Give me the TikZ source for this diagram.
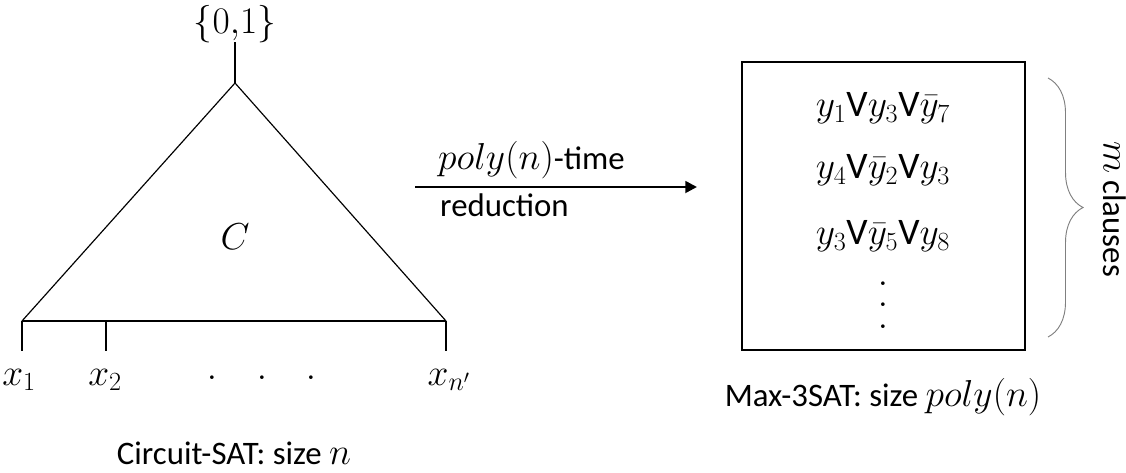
\RequirePackage{fix-cm}
\documentclass[tikz,border=0pt]{standalone}
\usepackage{fontspec}
\setmainfont{Carlito}
\usepackage{amsmath}
\usetikzlibrary{arrows.meta,positioning,decorations.pathreplacing}
\newcommand{\mth}[1]{{\fontsize{32}{36}\selectfont$#1$}}
\begin{document}
\begin{tikzpicture}[x=0.03cm,y=-0.03cm,
  font=\fontsize{28}{32}\selectfont,
  wire/.style={line width=1pt},
  pin/.style={line width=2.2pt},
  lab/.style={inner sep=0pt},
  cnfbox/.style={draw,line width=1.6pt,minimum width=8.49cm,minimum height=8.64cm,inner sep=0pt},
  mbrace/.style={decorate,decoration={brace,amplitude=1.05cm},draw=gray,line width=0.8pt}
]
\useasboundingbox (0,0) rectangle (1126,472);
% Circuit C as a triangle
\coordinate (apex) at (235,83);
\coordinate (bl) at (22,321);
\coordinate (br) at (446,321);
\coordinate (b2) at (106,321);
\coordinate (outp) at (235,42);
\node[lab] (out) at (235,24) {\mth{\{0{,}1\}}};
\draw[pin] (apex) -- (outp);
\draw[wire] (bl) -- (apex) -- (br);
\draw[wire,line width=1.6pt] (bl) -- (br);
\node[lab] (circ) at (235,237) {\mth{C}};
% inputs
\coordinate (t1) at (22,351);
\coordinate (t2) at (106,351);
\coordinate (tn) at (446,351);
\draw[pin] (bl) -- (t1);
\draw[pin] (b2) -- (t2);
\draw[pin] (br) -- (tn);
\node[lab] (x1) at (19,380) {\mth{x_1}};
\node[lab] (x2) at (105,380) {\mth{x_2}};
\node[lab] (xn) at (449,380) {\mth{x_{n'}}};
\foreach \px [count=\i] in {212,262,311}
  \node[lab] (d\i) at (\px,378) {\mth{.}};
\node[lab] (csat) at (234,453) {Circuit-SAT: size \mth{n}};
% reduction arrow
\coordinate (src) at (415,187);
\coordinate (dst) at (697,187);
\draw[pin,-{Triangle[length=10pt,width=10pt]}] (src) -- (dst);
\node[lab,anchor=west] (polyt) at (438,160) {\mth{poly(n)}-time};
\node[lab,anchor=west] (red) at (440,205) {reduction};
% Max-3SAT instance
\node[cnfbox] (cnf) at (883.5,206) {};
\node[lab] (c1) at (883,108) {\mth{y_1\mathrm{V}y_3\mathrm{V}\bar{y}_7}};
\node[lab] (c2) at (883,170) {\mth{y_4\mathrm{V}\bar{y}_2\mathrm{V}y_3}};
\node[lab] (c3) at (883,236) {\mth{y_3\mathrm{V}\bar{y}_5\mathrm{V}y_8}};
\foreach \py [count=\i] in {284,305,327}
  \node[lab] (v\i) at (883,\py) {\mth{.}};
\coordinate (btop) at (1048,78);
\coordinate (bbot) at (1048,337);
\draw[mbrace] (btop) -- (bbot);
\node[lab,rotate=-90] (mcl) at (1115,209) {\mth{m} clauses};
\node[lab] (msat) at (883,397) {Max-3SAT: size \mth{poly(n)}};
\end{tikzpicture}
\end{document}
